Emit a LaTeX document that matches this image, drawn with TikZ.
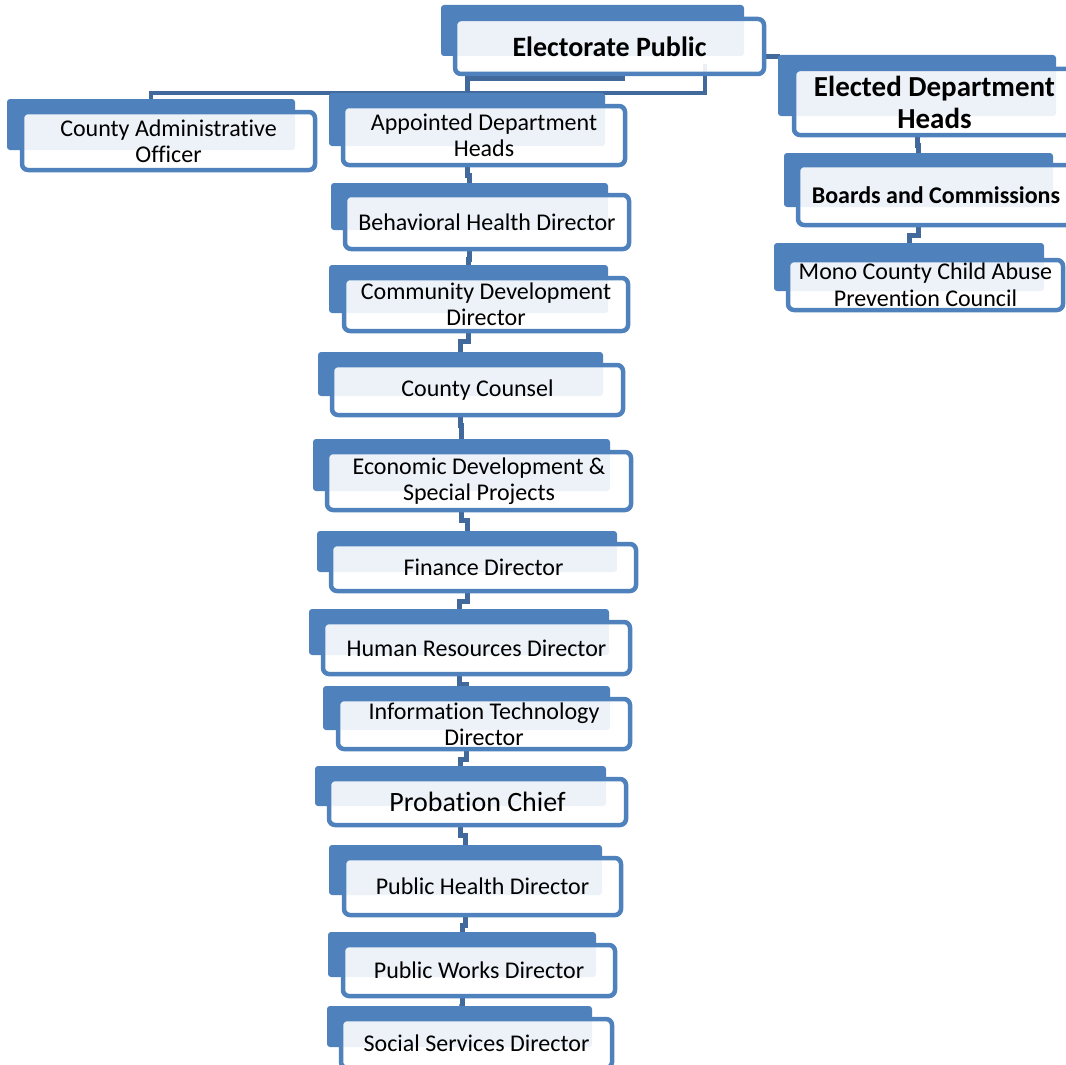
\documentclass[tikz,border=0pt]{standalone}
\usepackage{fontspec}
\setmainfont{Carlito}[Ligatures=NoCommon]
\usetikzlibrary{fit,backgrounds}
\definecolor{boxblue}{HTML}{4F81BD}
\definecolor{linkblue}{HTML}{41699C}
\begin{document}
\begin{tikzpicture}[x=1pt, y=-1pt,
    backbox/.style={fill=boxblue, rounded corners=3pt, inner sep=0pt},
    frontbox/.style={draw=boxblue, line width=4.5pt, fill=white, fill opacity=0.9, text opacity=1,
        rounded corners=6pt, inner sep=0pt, align=center, font=\fontsize{24}{26.5}\selectfont},
    link/.style={draw=linkblue, line width=5pt},
    bus/.style={draw=linkblue, line width=3.5pt}]
    \useasboundingbox (0,0) rectangle (1066,1065);
    \clip (0,0) rectangle (1066,1065);

    % top
    \node[backbox, fit={(441,5) (744,56)}] (ep-b) {};
    \node[frontbox, minimum width=309pt, minimum height=55pt, font=\bfseries\fontsize{28}{30}\selectfont] (ep) at (609.5,46.5) {Electorate Public};
    \node[backbox, fit={(7,99) (295,150)}] (cao-b) {};
    \node[frontbox, minimum width=293pt, minimum height=58pt] (cao) at (168.5,141) {County Administrative\\Officer};

    % appointed column
    \node[backbox, fit={(329,93) (605,146)}] (adh-b) {};
    \node[frontbox, minimum width=282pt, minimum height=59pt] (adh) at (484,135.5) {Appointed Department\\Heads};
    \node[backbox, fit={(331,183) (608,230)}] (bhd-b) {};
    \node[frontbox, minimum width=284pt, minimum height=54pt] (bhd) at (487,222) {Behavioral Health Director};
    \node[backbox, fit={(329,265) (608,313)}] (cdd-b) {};
    \node[frontbox, minimum width=284pt, minimum height=53pt] (cdd) at (486,304.5) {Community Development\\Director};
    \node[backbox, fit={(318,352) (603,396)}] (cc-b) {};
    \node[frontbox, minimum width=291pt, minimum height=50pt] (cc) at (477.5,390) {County Counsel};
    \node[backbox, fit={(313,439) (610,491)}] (eco-b) {};
    \node[frontbox, minimum width=304pt, minimum height=58pt] (eco) at (479,481) {Economic Development \&\\Special Projects};
    \node[backbox, fit={(317,531) (617,572)}] (fin-b) {};
    \node[frontbox, minimum width=305pt, minimum height=47pt] (fin) at (483.5,567.5) {Finance Director};
    \node[backbox, fit={(309,609) (609,655)}] (hr-b) {};
    \node[frontbox, minimum width=307pt, minimum height=52pt] (hr) at (476.5,648) {Human Resources Director};
    \node[backbox, fit={(323,686) (610,730)}] (it-b) {};
    \node[frontbox, minimum width=292pt, minimum height=50pt] (it) at (484,724) {Information Technology\\Director};
    \node[backbox, fit={(315,766) (606,806)}] (pc-b) {};
    \node[frontbox, minimum width=297pt, minimum height=46pt, font=\fontsize{28}{30}\selectfont] (pc) at (477.5,802) {Probation Chief};
    \node[backbox, fit={(329,845) (602,895)}] (ph-b) {};
    \node[frontbox, minimum width=277pt, minimum height=57pt] (ph) at (482.5,886.5) {Public Health Director};
    \node[backbox, fit={(328,932) (596,977)}] (pw-b) {};
    \node[frontbox, minimum width=272pt, minimum height=51pt] (pw) at (479,970.5) {Public Works Director};
    \node[backbox, fit={(327,1006) (592,1047)}] (ss-b) {};
    \node[frontbox, minimum width=271pt, minimum height=49pt] (ss) at (476.5,1043.5) {Social Services Director};

    % elected column
    \node[backbox, fit={(778,55) (1056,116)}] (edh-b) {};
    \node[frontbox, minimum width=281pt, minimum height=66pt, font=\bfseries\fontsize{29}{32}\selectfont] (edh) at (934.5,102) {Elected Department\\Heads};
    \node[backbox, fit={(784,153) (1053,207)}] (bc-b) {};
    \node[frontbox, minimum width=276pt, minimum height=60pt, font=\bfseries\fontsize{24}{26}\selectfont] (bc) at (936,195) {Boards and Commissions};
    \node[backbox, fit={(774,243) (1044,291)}] (mc-b) {};
    \node[frontbox, minimum width=275pt, minimum height=50pt] (mc) at (925.5,285) {Mono County Child Abuse\\Prevention Council};

    % connectors
    \begin{scope}[on background layer]
        \draw[bus] (cao-b.north) -- ++(0,-6) -| ([xshift=95.5pt,yshift=12pt]ep.south);
        \draw[link] (adh-b.north) -- ++(0,-14) -- ++(158,0);
        \draw[link] ([yshift=-10pt]ep.east) -- ++(14,0);
        \foreach \a/\b in {adh/bhd, bhd/cdd, cdd/cc, cc/eco, eco/fin, fin/hr, hr/it, it/pc, pc/ph, ph/pw, pw/ss, edh/bc, bc/mc}
            \draw[link] (\a-b.center |- \a.south) -- ++(0,8) -| (\b-b.north);
    \end{scope}
\end{tikzpicture}
\end{document}
